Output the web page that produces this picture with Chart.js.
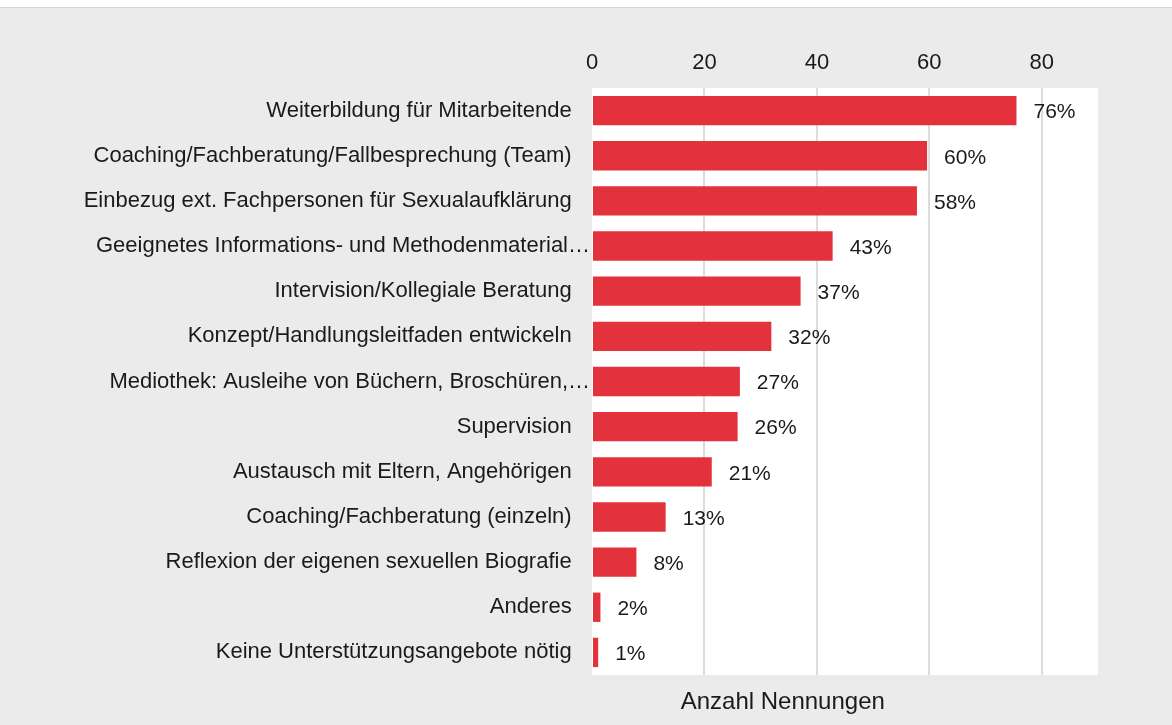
<!DOCTYPE html>
<html>
<head>
<meta charset="utf-8">
<script src="https://cdn.jsdelivr.net/npm/chart.js@4/dist/chart.umd.min.js"></script>
<style>
  body { margin: 0; background: #ebebeb; }
  #kopf { height: 7px; background: #fff; border-bottom: 1px solid #d6d6d6; }
  #box { position: relative; width: 1172px; height: 717px; }
</style>
</head>
<body>
<div id="kopf"></div>
<div id="box"><canvas id="grafik"></canvas></div>
<script>
// Daten
const kategorien = [
  'Weiterbildung für Mitarbeitende',
  'Coaching/Fachberatung/Fallbesprechung (Team)',
  'Einbezug ext. Fachpersonen für Sexualaufklärung',
  'Geeignetes Informations- und Methodenmaterial…',
  'Intervision/Kollegiale Beratung',
  'Konzept/Handlungsleitfaden entwickeln',
  'Mediothek: Ausleihe von Büchern, Broschüren,…',
  'Supervision',
  'Austausch mit Eltern, Angehörigen',
  'Coaching/Fachberatung (einzeln)',
  'Reflexion der eigenen sexuellen Biografie',
  'Anderes',
  'Keine Unterstützungsangebote nötig'
];
const nennungen = [75.5, 59.6, 57.8, 42.8, 37.1, 31.9, 26.3, 25.9, 21.3, 13.1, 7.9, 1.5, 1.1];
const prozente = ['76%', '60%', '58%', '43%', '37%', '32%', '27%', '26%', '21%', '13%', '8%', '2%', '1%'];
const xTicks = [0, 20, 40, 60, 80];
const achsenTitel = 'Anzahl Nennungen';

const schrift = '"Liberation Sans", Arial, sans-serif';
const textFarbe = '#1a1a1a';

// weisser Hintergrund nur im Plotbereich
const plotHintergrund = {
  id: 'plotHintergrund',
  beforeDraw(chart) {
    const { ctx, chartArea } = chart;
    ctx.save();
    ctx.fillStyle = '#ffffff';
    ctx.fillRect(chartArea.left, chartArea.top, chartArea.right - chartArea.left, chartArea.bottom - chartArea.top);
    ctx.restore();
  }
};

// Prozent-Beschriftung rechts neben den Balken
const prozentLabels = {
  id: 'prozentLabels',
  afterDatasetsDraw(chart) {
    const ctx = chart.ctx;
    const meta = chart.getDatasetMeta(0);
    ctx.save();
    ctx.font = '21px ' + schrift;
    ctx.fillStyle = textFarbe;
    ctx.textAlign = 'left';
    ctx.textBaseline = 'middle';
    meta.data.forEach((bar, i) => {
      ctx.fillText(prozente[i], bar.x + 17, bar.y + 2);
    });
    ctx.restore();
  }
};

// Achsentitel unten (nicht mittig im Original)
const titelUnten = {
  id: 'titelUnten',
  afterDraw(chart) {
    const { ctx, chartArea } = chart;
    ctx.save();
    ctx.font = '24px ' + schrift;
    ctx.fillStyle = textFarbe;
    ctx.textAlign = 'center';
    ctx.textBaseline = 'middle';
    ctx.fillText(achsenTitel, chartArea.left + (chartArea.right - chartArea.left) * 0.377, chartArea.bottom + 27);
    ctx.restore();
  }
};

const ctx = document.getElementById('grafik').getContext('2d');
new Chart(ctx, {
  type: 'bar',
  data: {
    labels: kategorien,
    datasets: [{
      data: nennungen,
      backgroundColor: '#e3323b',
      borderWidth: 0,
      barPercentage: 0.65,
      categoryPercentage: 1
    }]
  },
  options: {
    indexAxis: 'y',
    responsive: true,
    maintainAspectRatio: false,
    animation: false,
    layout: { padding: { right: 74, bottom: 50 } },
    plugins: {
      legend: { display: false },
      tooltip: { enabled: false }
    },
    scales: {
      x: {
        position: 'top',
        min: 0,
        max: 90,
        afterFit: s => { s.height = 80; },
        afterBuildTicks: s => { s.ticks = s.ticks.filter(t => xTicks.includes(t.value)); },
        ticks: {
          stepSize: 20,
          padding: 12,
          color: textFarbe,
          font: { family: schrift, size: 22 }
        },
        grid: {
          drawTicks: false,
          lineWidth: 2,
          color: c => (c.tick && c.tick.value === 0) ? 'rgba(0,0,0,0)' : '#dcdcdc'
        },
        border: { display: false }
      },
      y: {
        afterFit: s => { s.width = 592; },
        ticks: {
          padding: 2,
          autoSkip: false,
          color: textFarbe,
          font: { family: schrift, size: 22 },
          callback: function (value) {
            const l = this.getLabelForValue(value);
            return l.endsWith('…') ? l : l + '   ';
          }
        },
        grid: { display: false, drawTicks: false },
        border: { display: false }
      }
    }
  },
  plugins: [plotHintergrund, prozentLabels, titelUnten]
});
</script>
</body>
</html>
